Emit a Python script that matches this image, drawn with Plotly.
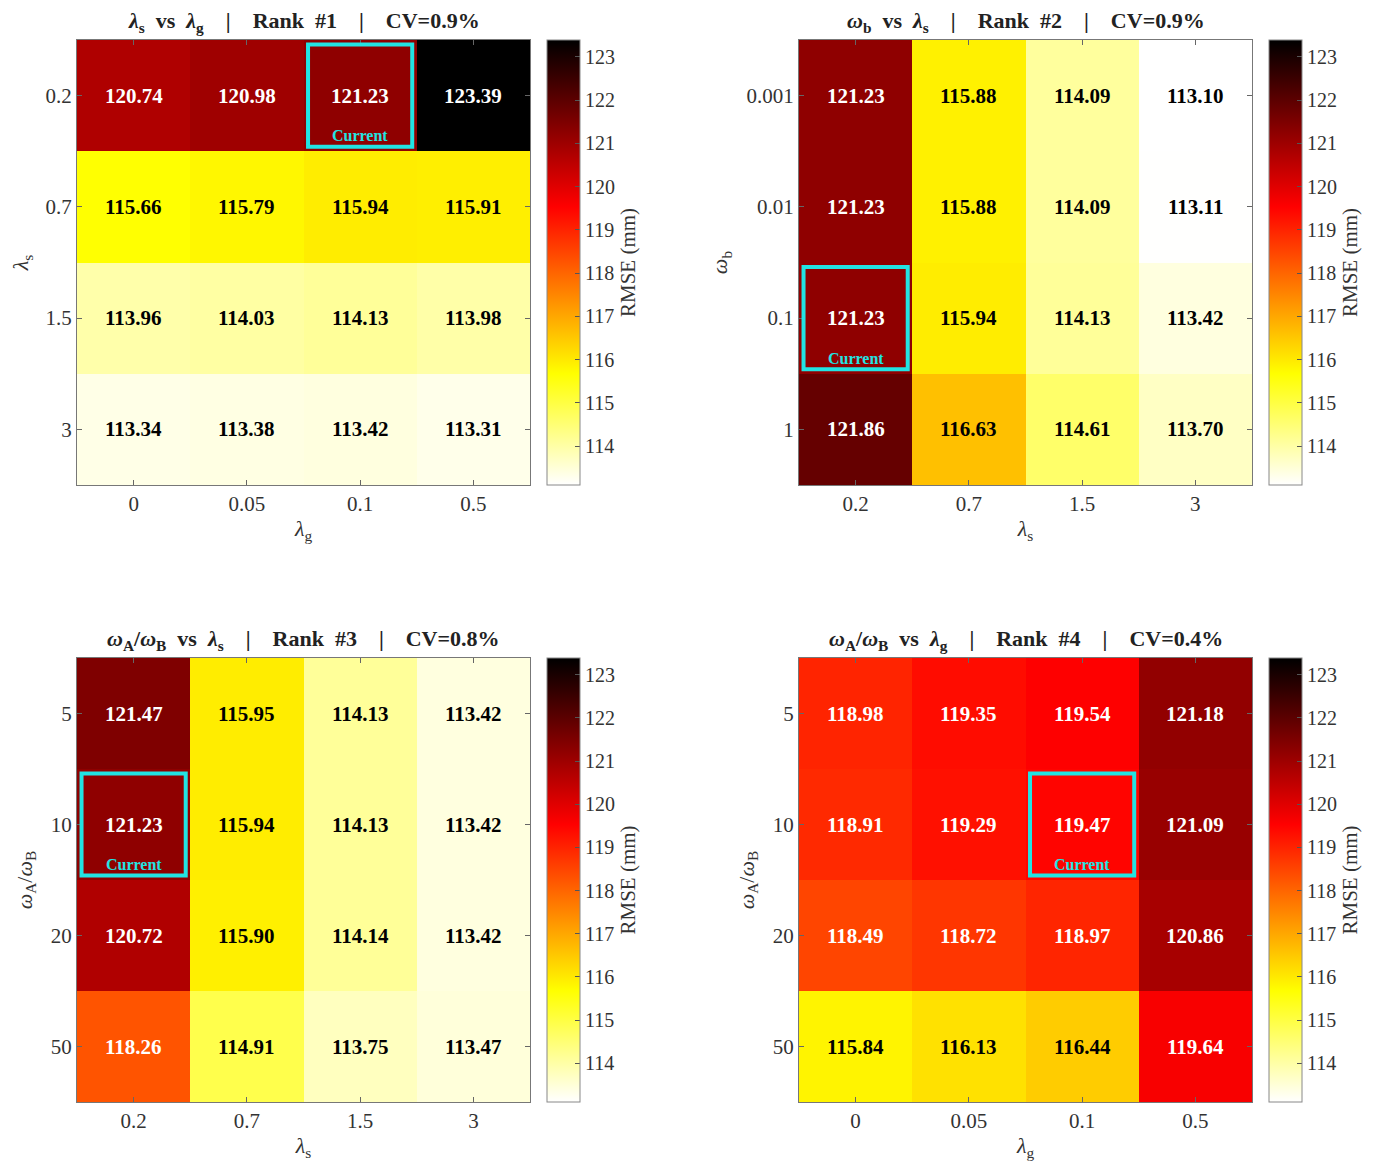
import plotly.graph_objects as go

# sensitivity grids (RMSE, mm)
lg_labels = ["0", "0.05", "0.1", "0.5"]
ls_labels = ["0.2", "0.7", "1.5", "3"]
wb_labels = ["0.001", "0.01", "0.1", "1"]
wab_labels = ["5", "10", "20", "50"]

z1 = [[120.74, 120.98, 121.23, 123.39],
      [115.66, 115.79, 115.94, 115.91],
      [113.96, 114.03, 114.13, 113.98],
      [113.34, 113.38, 113.42, 113.31]]
z2 = [[121.23, 115.88, 114.09, 113.10],
      [121.23, 115.88, 114.09, 113.11],
      [121.23, 115.94, 114.13, 113.42],
      [121.86, 116.63, 114.61, 113.70]]
z3 = [[121.47, 115.95, 114.13, 113.42],
      [121.23, 115.94, 114.13, 113.42],
      [120.72, 115.90, 114.14, 113.42],
      [118.26, 114.91, 113.75, 113.47]]
z4 = [[118.98, 119.35, 119.54, 121.18],
      [118.91, 119.29, 119.47, 121.09],
      [118.49, 118.72, 118.97, 120.86],
      [115.84, 116.13, 116.44, 119.64]]

titles = ["<i>λ</i><sub>s</sub>  vs  <i>λ</i><sub>g</sub>    |    Rank  #1    |    CV=0.9%",
          "<i>ω</i><sub>b</sub>  vs  <i>λ</i><sub>s</sub>    |    Rank  #2    |    CV=0.9%",
          "<i>ω</i><sub>A</sub>/<i>ω</i><sub>B</sub>  vs  <i>λ</i><sub>s</sub>    |    Rank  #3    |    CV=0.8%",
          "<i>ω</i><sub>A</sub>/<i>ω</i><sub>B</sub>  vs  <i>λ</i><sub>g</sub>    |    Rank  #4    |    CV=0.4%"]
xtitles = ["<i>λ</i><sub>g</sub>", "<i>λ</i><sub>s</sub>", "<i>λ</i><sub>s</sub>", "<i>λ</i><sub>g</sub>"]
ytitles = ["<i>λ</i><sub>s</sub>", "<i>ω</i><sub>b</sub>",
           "<i>ω</i><sub>A</sub>/<i>ω</i><sub>B</sub>", "<i>ω</i><sub>A</sub>/<i>ω</i><sub>B</sub>"]
xlabels = [lg_labels, ls_labels, ls_labels, lg_labels]
ylabels = [ls_labels, wb_labels, wab_labels, wab_labels]
zs = [z1, z2, z3, z4]
current = [(0, 2), (2, 0), (1, 0), (1, 2)]  # (row, col)

zmin, zmax = 113.10, 123.39
hot_r = [[0, "rgb(255,255,255)"], [0.25, "rgb(255,255,0)"],
         [0.625, "rgb(255,0,0)"], [1, "rgb(0,0,0)"]]

OFF = 8  # page margin of the browser
W, H = 1384 - 2 * OFF, 1172 - 2 * OFF
FONT = "Liberation Serif"
# plot boxes in screen pixels: (left, right, top, bottom)
boxes = [(77, 530, 40, 485), (799, 1252, 40, 485),
         (77, 530, 658, 1102), (799, 1252, 658, 1102)]


def px(v):
    return (v - OFF) / W


def py(v):
    return 1 - (v - OFF) / H


fig = go.Figure()
annotations = []
shapes = []
layout = {}

for i in range(4):
    l, r, t, b = boxes[i]
    n = "" if i == 0 else str(i + 1)
    xa, ya = "x" + n, "y" + n
    fig.add_trace(go.Heatmap(
        z=zs[i], x=list(range(4)), y=list(range(4)),
        xaxis=xa, yaxis=ya, zmin=zmin, zmax=zmax, colorscale=hot_r,
        hoverinfo="z",
        colorbar=dict(x=px(l + 470), xanchor="left", xpad=0, ypad=0, thickness=33,
                      len=b - t, lenmode="pixels", y=py(t), yanchor="top",
                      outlinewidth=1, outlinecolor="#888",
                      tickvals=list(range(114, 124)), ticks="inside", ticklen=5,
                      tickcolor="#555",
                      tickfont=dict(family=FONT, size=20, color="#333"),
                      title=dict(text="RMSE (mm)", side="right",
                                 font=dict(family=FONT, size=21, color="#333")))))
    axis_common = dict(showline=True, linecolor="#777", linewidth=1, mirror="ticks",
                       ticks="inside", ticklen=5, tickcolor="#666", showgrid=False,
                       zeroline=False,
                       tickfont=dict(family=FONT, size=21, color="#333"))
    layout["xaxis" + n] = dict(axis_common, domain=[px(l), px(r)], anchor=ya,
                               range=[-0.5, 3.5], tickvals=list(range(4)),
                               ticktext=xlabels[i],
                               title=dict(text=xtitles[i], standoff=5,
                                          font=dict(family=FONT, size=22, color="#333")))
    layout["yaxis" + n] = dict(axis_common, domain=[py(b), py(t)], anchor=xa,
                               range=[3.5, -0.5], tickvals=list(range(4)),
                               ticktext=ylabels[i],
                               title=dict(text=ytitles[i], standoff=12,
                                          font=dict(family=FONT, size=22, color="#333")))
    annotations.append(dict(text="<b>" + titles[i] + "</b>", xref="paper", yref="paper",
                            x=px((l + r) / 2), y=py(t - 18), xanchor="center",
                            yanchor="middle", showarrow=False,
                            font=dict(family=FONT, size=22, color="#222")))
    for row in range(4):
        for col in range(4):
            v = zs[i][row][col]
            annotations.append(dict(text="<b>%.2f</b>" % v, x=col, y=row, xref=xa, yref=ya,
                                    showarrow=False,
                                    font=dict(family=FONT, size=21,
                                              color="white" if v > 117.5 else "black")))
    cr, cc = current[i]
    shapes.append(dict(type="rect", xref=xa, yref=ya, x0=cc - 0.46, x1=cc + 0.46,
                       y0=cr - 0.46, y1=cr + 0.46, line=dict(color="#22e3e3", width=4)))
    annotations.append(dict(text="<b>Current</b>", x=cc, y=cr + 0.36, xref=xa, yref=ya,
                            showarrow=False,
                            font=dict(family=FONT, size=16, color="#22e3e3")))

fig.update_layout(width=W, height=H, margin=dict(l=0, r=0, t=0, b=0),
                  paper_bgcolor="white", plot_bgcolor="white",
                  annotations=annotations, shapes=shapes, **layout)
fig.write_html("out.html")
